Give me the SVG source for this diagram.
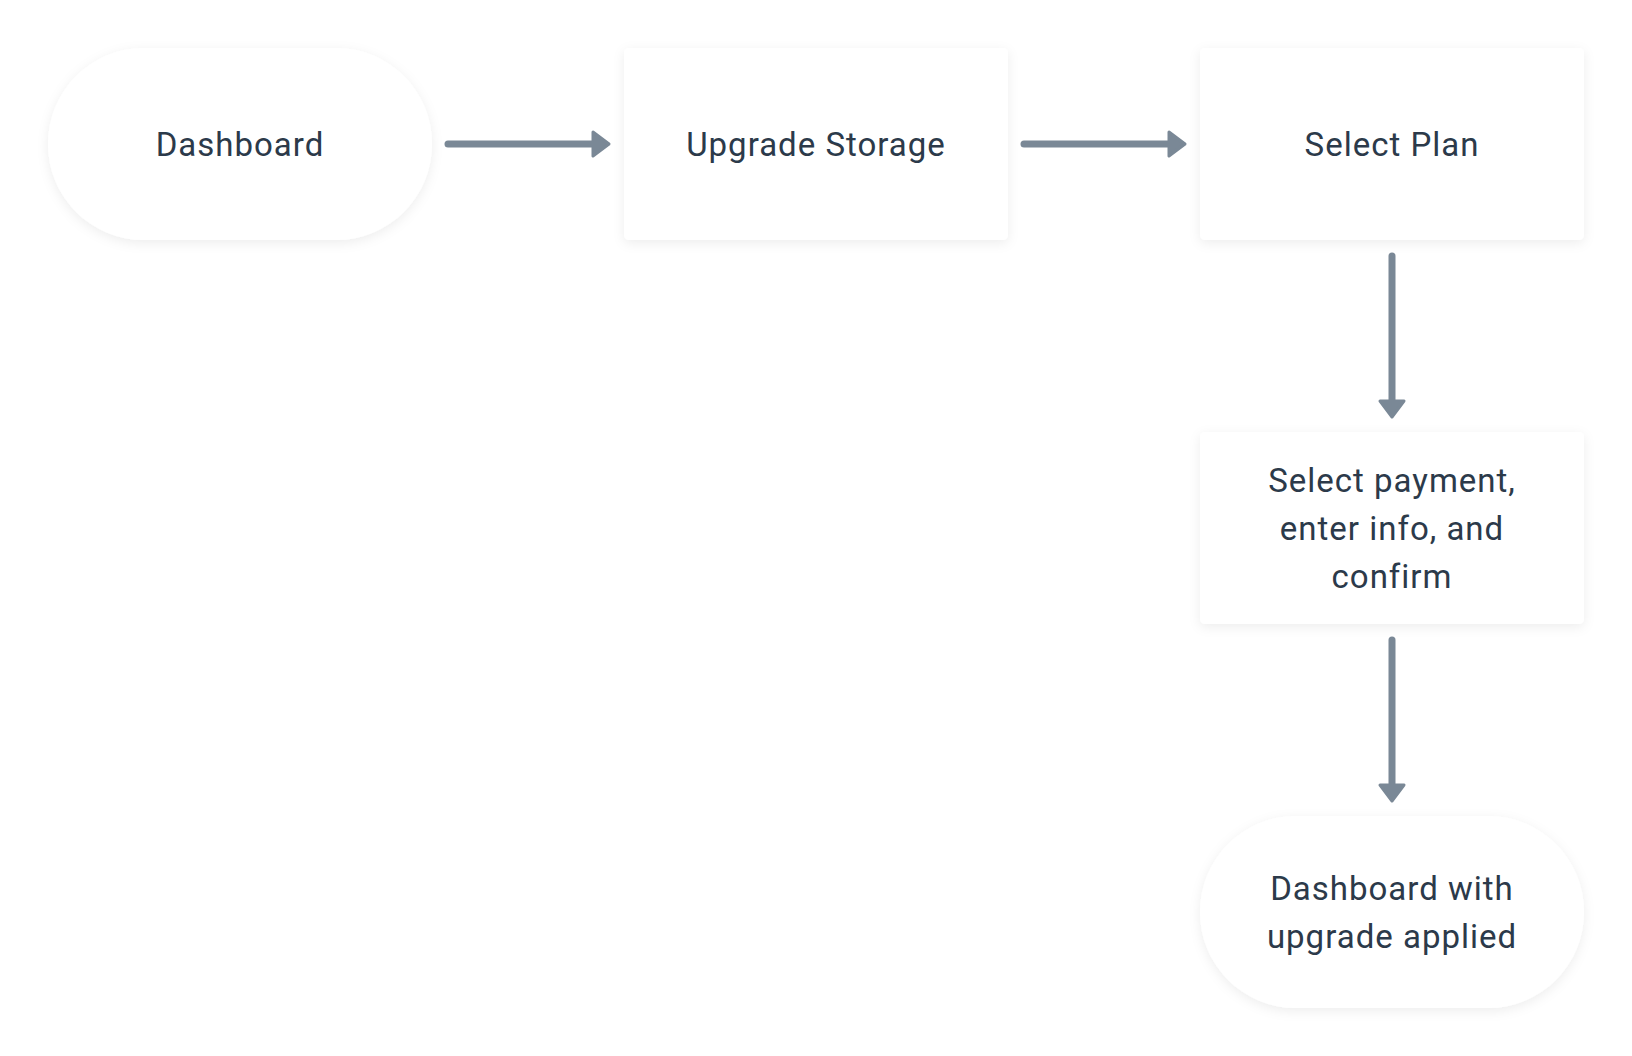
<svg xmlns="http://www.w3.org/2000/svg" width="1632" height="1056" viewBox="0 0 1632 1056">
<style>
.node{fill:#ffffff;filter:url(#sh)}
.lbl{font-family:Roboto,"Noto Sans",sans-serif;font-size:33px;fill:#2c3a4a;text-anchor:middle;letter-spacing:1px}
.edge{stroke:#7a8896;stroke-width:7;stroke-linecap:round;fill:none}
.head{fill:#7a8896;stroke:#7a8896;stroke-width:3;stroke-linejoin:round}
</style>
<defs>
<filter id="sh" x="-20%" y="-20%" width="140%" height="150%">
<feDropShadow dx="0" dy="3" stdDeviation="6" flood-color="#000000" flood-opacity="0.07"/>
</filter>
</defs>
<rect width="1632" height="1056" fill="#ffffff"/>
<g id="connectors">
<line class="edge" x1="448" y1="144" x2="594" y2="144"/>
<polygon class="head" points="593,132 609,144 593,156"/>
<line class="edge" x1="1024" y1="144" x2="1170" y2="144"/>
<polygon class="head" points="1169,132 1185,144 1169,156"/>
<line class="edge" x1="1392" y1="256" x2="1392" y2="402"/>
<polygon class="head" points="1380,401 1392,417 1404,401"/>
<line class="edge" x1="1392" y1="640" x2="1392" y2="786"/>
<polygon class="head" points="1380,785 1392,801 1404,785"/>
</g>
<g id="n1">
<rect class="node" x="48" y="48" width="384" height="192" rx="96"/>
<text class="lbl" x="240" y="156">Dashboard</text>
</g>
<g id="n2">
<rect class="node" x="624" y="48" width="384" height="192" rx="5"/>
<text class="lbl" x="816" y="156">Upgrade Storage</text>
</g>
<g id="n3">
<rect class="node" x="1200" y="48" width="384" height="192" rx="5"/>
<text class="lbl" x="1392" y="156">Select Plan</text>
</g>
<g id="n4">
<rect class="node" x="1200" y="432" width="384" height="192" rx="5"/>
<text class="lbl" x="1392" y="492">Select payment,</text>
<text class="lbl" x="1392" y="540">enter info, and</text>
<text class="lbl" x="1392" y="588">confirm</text>
</g>
<g id="n5">
<rect class="node" x="1200" y="816" width="384" height="192" rx="96"/>
<text class="lbl" x="1392" y="900">Dashboard with</text>
<text class="lbl" x="1392" y="948">upgrade applied</text>
</g>
</svg>
